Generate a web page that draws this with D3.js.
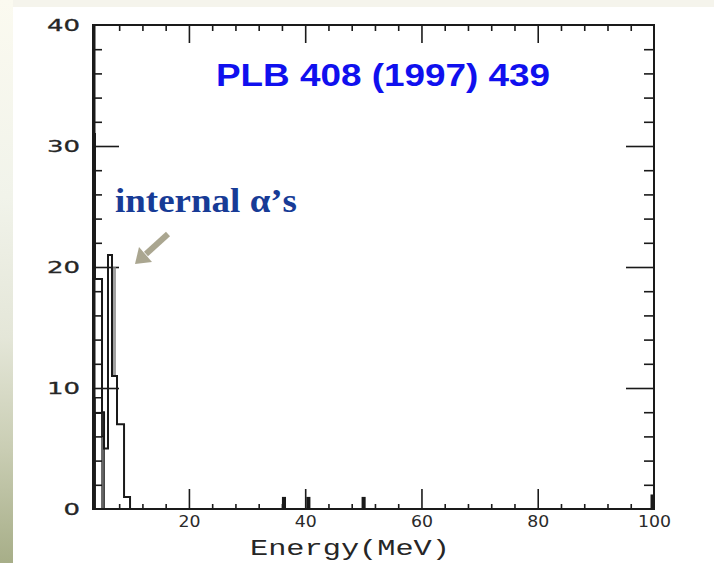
<!DOCTYPE html>
<html>
<head>
<meta charset="utf-8">
<script src="https://cdn.jsdelivr.net/npm/d3@7/dist/d3.min.js"></script>
<style>
html,body{margin:0;padding:0;background:#fff;}
svg{display:block;}
</style>
</head>
<body>
<svg id="chart" width="714" height="563"></svg>
<script>
// ---- data ----
const yTickLabels = [0, 10, 20, 30, 40];
const xTickLabels = [20, 40, 60, 80, 100];
// main (outer) histogram: bin edges in MeV and counts
const mainEdges  = [3.5, 3.84, 5.05, 5.4, 6.08, 6.77, 7.63, 8.84, 9.87];
const mainCounts = [31, 19, 8, 5, 21, 11, 7, 1];
// inner overlapping histogram
const innerEdges  = [3.84, 5.05, 5.4];
const innerCounts = [9.2, 6];
const inner2Edges  = [3.84, 5.05];
const inner2Counts = [7.9];
// grey shading inside the peak
const shadeEdges = [6.77, 7.45];
const shadeTop = [20];
const shadeBase = [11];
// isolated single-count bins at higher energy
const highBins = [[36.0, 36.7], [40.2, 40.9], [49.7, 50.4], [99.4, 100]];
const highCounts = [1, 1, 1, 1.2];
const title = "PLB 408 (1997) 439";
const annotation = "internal \u03b1\u2019s";
const xTitle = "Energy(MeV)";

// ---- scales ----
const svg = d3.select("#chart");
const W = 714, H = 563;
const x = d3.scaleLinear().domain([3.5, 100]).range([93, 654]);
const y = d3.scaleLinear().domain([0, 40]).range([509, 25]);

// ---- background ----
const defs = svg.append("defs");
const grad = defs.append("linearGradient").attr("id", "lg").attr("x1", 0).attr("y1", 0).attr("x2", 0).attr("y2", 1);
[[0, "#fbfaf0"], [0.35, "#f1f3ea"], [0.6, "#e4e6d8"], [0.8, "#c9cdb3"], [1, "#a7ae88"]]
  .forEach(([o, c]) => grad.append("stop").attr("offset", o).attr("stop-color", c));
svg.append("rect").attr("width", W).attr("height", H).attr("fill", "#ffffff");
svg.append("rect").attr("x", 0).attr("y", 0).attr("width", 13).attr("height", H).attr("fill", "url(#lg)");
svg.append("rect").attr("x", 13).attr("y", 0).attr("width", W - 13).attr("height", 7).attr("fill", "#f5f4ec");

const g = svg.append("g");
const ink = "#1a1a1a";

// ---- ticks ----
const yMinor = d3.range(2, 40, 2).filter(v => v % 10 !== 0);
const yMajor = [10, 20, 30];
const xMinor = d3.range(8, 100, 4).filter(v => v % 20 !== 0);
const xMajor = [20, 40, 60, 80];

function tickAxis(axis, tx, ty, len, vals) {
  const a = g.append("g").attr("transform", `translate(${tx},${ty})`)
    .call(axis.tickValues(vals).tickSize(len).tickFormat(""));
  a.select(".domain").remove();
  a.selectAll("line").attr("stroke", ink).attr("stroke-width", 1.6);
  return a;
}
tickAxis(d3.axisRight(y), 93, 0, 9, yMinor);
tickAxis(d3.axisRight(y), 93, 0, 26, yMajor);
tickAxis(d3.axisLeft(y), 654, 0, 10, yMinor);
tickAxis(d3.axisLeft(y), 654, 0, 28, yMajor);
tickAxis(d3.axisBottom(x), 0, 25, 6, xMinor);
tickAxis(d3.axisBottom(x), 0, 25, 18, xMajor);
tickAxis(d3.axisTop(x), 0, 509, 5, xMinor);
tickAxis(d3.axisTop(x), 0, 509, 20, xMajor);

// ---- histograms ----
function stepPoints(edges, counts) {
  const pts = [[edges[0], 0]];
  counts.forEach((c, i) => { pts.push([edges[i], c]); pts.push([edges[i + 1], c]); });
  pts.push([edges[edges.length - 1], 0]);
  return pts;
}
const line = d3.line().x(d => x(d[0])).y(d => y(d[1]));

g.selectAll(".shade").data(shadeTop).enter().append("rect")
  .attr("x", (d, i) => x(shadeEdges[i]))
  .attr("width", (d, i) => x(shadeEdges[i + 1]) - x(shadeEdges[i]))
  .attr("y", d => y(d))
  .attr("height", (d, i) => y(shadeBase[i]) - y(d))
  .attr("fill", "#8a8a8a").attr("opacity", 0.8);

g.append("path").attr("d", line(stepPoints(innerEdges, innerCounts)))
  .attr("fill", "none").attr("stroke", ink).attr("stroke-width", 1.5);
g.append("path").attr("d", line(stepPoints(inner2Edges, inner2Counts)))
  .attr("fill", "none").attr("stroke", ink).attr("stroke-width", 1.3);
g.append("path").attr("d", line(stepPoints(mainEdges, mainCounts)))
  .attr("fill", "none").attr("stroke", ink).attr("stroke-width", 2);

g.selectAll(".hb").data(highBins).enter().append("rect")
  .attr("x", d => x(d[0]))
  .attr("width", d => x(d[1]) - x(d[0]))
  .attr("y", (d, i) => y(highCounts[i]))
  .attr("height", (d, i) => y(0) - y(highCounts[i]))
  .attr("fill", ink);

// ---- frame ----
g.append("rect").attr("x", x(3.5)).attr("y", y(40))
  .attr("width", x(100) - x(3.5)).attr("height", y(0) - y(40))
  .attr("fill", "none").attr("stroke", ink).attr("stroke-width", 2);
g.append("line").attr("x1", x(3.5) + 1).attr("x2", x(3.5) + 1).attr("y1", y(40)).attr("y2", y(0))
  .attr("stroke", ink).attr("stroke-width", 3);

// ---- tick labels ----
const yl = g.append("g").attr("transform", "translate(80,0)")
  .call(d3.axisLeft(y).tickValues(yTickLabels).tickSize(0).tickPadding(0).tickFormat(d3.format("d")));
yl.select(".domain").remove();
yl.selectAll("text")
  .attr("font-family", "DejaVu Sans, sans-serif").attr("font-size", 16)
  .attr("fill", "#262626").attr("stroke", "#262626").attr("stroke-width", 0.3)
  .attr("textLength", d => String(d).length * 16.5)
  .attr("lengthAdjust", "spacingAndGlyphs");

const xl = g.append("g").attr("transform", "translate(0,516)")
  .call(d3.axisBottom(x).tickValues(xTickLabels).tickSize(0).tickPadding(0).tickFormat(d3.format("d")));
xl.select(".domain").remove();
xl.selectAll("text")
  .attr("font-family", "DejaVu Sans, sans-serif").attr("font-size", 15)
  .attr("fill", "#2a2a2a")
  .attr("textLength", d => String(d).length * 11)
  .attr("lengthAdjust", "spacingAndGlyphs");

// axis title
svg.append("text").attr("x", 350).attr("y", 555).attr("text-anchor", "middle")
  .attr("font-family", "Liberation Mono, Courier New, monospace").attr("font-size", 22)
  .attr("fill", "#262626")
  .attr("textLength", 200).attr("lengthAdjust", "spacingAndGlyphs")
  .text(xTitle);

// title
svg.append("text").attr("x", 216).attr("y", 86)
  .attr("font-family", "Liberation Sans, Arial, sans-serif").attr("font-weight", "bold").attr("font-size", 32)
  .attr("fill", "#1010ee")
  .attr("textLength", 334).attr("lengthAdjust", "spacingAndGlyphs")
  .text(title);

// annotation
svg.append("text").attr("x", 115).attr("y", 212)
  .attr("font-family", "Liberation Serif, Times New Roman, serif").attr("font-weight", "bold").attr("font-size", 34)
  .attr("fill", "#173b96")
  .attr("textLength", 182).attr("lengthAdjust", "spacingAndGlyphs")
  .text(annotation);

// arrow
svg.append("line").attr("x1", 168).attr("y1", 234).attr("x2", 146).attr("y2", 254)
  .attr("stroke", "#aaa690").attr("stroke-width", 6);
svg.append("polygon").attr("points", "135,264 152,262 139,247").attr("fill", "#aaa690");
</script>
</body>
</html>
